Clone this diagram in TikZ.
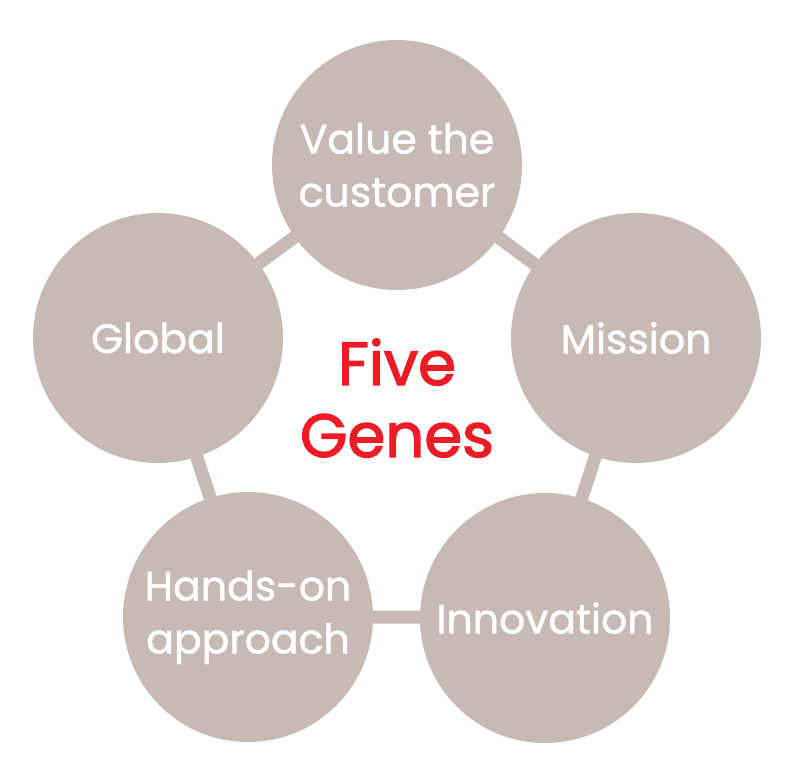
\documentclass[tikz,border=0pt]{standalone}
\usepackage{fontspec}
\setmainfont{Poppins}[FakeBold=1.2,BoldFont=Poppins,BoldFeatures={FakeBold=2.2}]
\definecolor{gene}{HTML}{C7BAB5}
\definecolor{genered}{HTML}{ED1C24}
\begin{document}
\begin{tikzpicture}[x=1pt,y=-1pt,
  gene/.style={circle,fill=gene,minimum size=250pt,inner sep=0pt,text=white,align=center,
    font=\fontsize{41}{53}\selectfont},
  link/.style={draw=gene,line width=13pt}]
\useasboundingbox (0,0) rectangle (796,784);
\coordinate (cv) at (397,162);
\coordinate (cm) at (634,338);
\coordinate (ci) at (543,617);
\coordinate (ch) at (250,617);
\coordinate (cg) at (157,338);
\draw[link] (cv) -- (cm) -- (ci) -- (ch) -- (cg) -- cycle;
\node[gene] (v) at (397,165) {Value the\\customer};
\node[gene] (m) at (636,338) {Mission};
\node[gene] (i) at (545,618) {Innovation};
\node[gene] (h) at (248,617) {Hands-on\\approach};
\node[gene] (g) at (158,338) {Global};
\node[text=genered,align=center,font=\fontsize{61}{72}\selectfont\bfseries] (t) at (397,398) {Five\\Genes};
\end{tikzpicture}
\end{document}
